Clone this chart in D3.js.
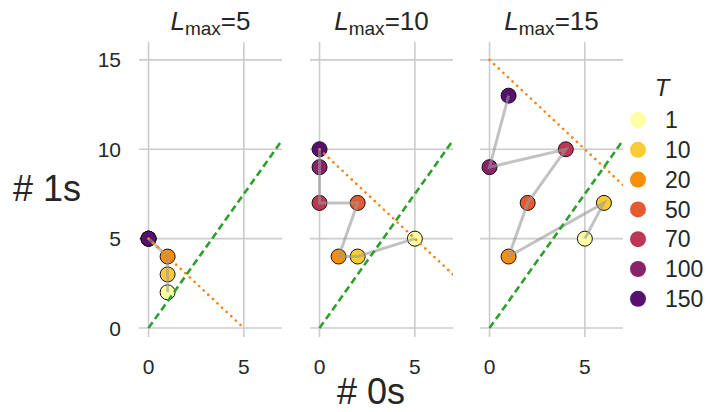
<!DOCTYPE html>
<html>
<head>
<meta charset="utf-8">
<script src="https://cdn.jsdelivr.net/npm/d3@7"></script>
<style>
  body { margin: 0; background: #fff; }
  text { font-family: "Liberation Sans", Arial, sans-serif; fill: #262626; }
</style>
</head>
<body>
<script>
const measurements = {
    width: 710,
    height: 412
}

// data
const lmaxValues = [5, 10, 15]
const tValues = [1, 10, 20, 50, 70, 100, 150]
// number of 0s and 1s for each T, one pair of arrays per panel
const zeros5 = [1, 1, 1, 0, 0, 0, 0]
const ones5 = [2, 3, 4, 5, 5, 5, 5]
const zeros10 = [5, 2, 1, 2, 0, 0, 0]
const ones10 = [5, 4, 4, 7, 7, 9, 10]
const zeros15 = [5, 6, 1, 2, 4, 0, 1]
const ones15 = [5, 7, 4, 7, 10, 9, 13]
const xTicks = [0, 5]
const yTicks = [0, 5, 10, 15]

const panels = [
    { lmax: lmaxValues[0], zeros: zeros5, ones: ones5 },
    { lmax: lmaxValues[1], zeros: zeros10, ones: ones10 },
    { lmax: lmaxValues[2], zeros: zeros15, ones: ones15 }
]

const svg = d3.select("body").append('svg')
    .attr('width', measurements.width)
    .attr('height', measurements.height)

const panelLeft = [139, 310, 480]
const panelWidth = 143
const plotTop = 42, plotBottom = 337

const y = d3.scaleLinear().domain([-0.5, 16]).range([plotBottom, plotTop])
const color = d3.scaleOrdinal()
    .domain(tValues)
    .range(tValues.map((t, i) => d3.interpolateInferno(1 - i * 0.125)))

svg.append('defs').selectAll('clipPath')
    .data(panels)
    .enter()
    .append('clipPath')
    .attr('id', (d, i) => 'clip' + i)
    .append('rect')
    .attr('x', 0).attr('y', plotTop)
    .attr('width', panelWidth).attr('height', plotBottom - plotTop)

panels.forEach(function (p, i) {
    const x = d3.scaleLinear().domain([-0.5, 7]).range([0, panelWidth])
    const g = svg.append('g').attr('transform', `translate(${panelLeft[i]},0)`)

    // grid
    g.selectAll('.vgrid').data(xTicks).enter().append('line')
        .attr('x1', d => x(d)).attr('x2', d => x(d))
        .attr('y1', plotTop).attr('y2', plotBottom)
        .attr('stroke', '#cccccc').attr('stroke-width', 1.6)
    g.selectAll('.hgrid').data(yTicks).enter().append('line')
        .attr('x1', 0).attr('x2', panelWidth)
        .attr('y1', d => y(d)).attr('y2', d => y(d))
        .attr('stroke', '#cccccc').attr('stroke-width', 1.6)

    // x tick labels
    g.selectAll('.xt').data(xTicks).enter().append('text')
        .attr('x', d => x(d)).attr('y', 374)
        .attr('text-anchor', 'middle')
        .attr('font-size', 21)
        .text(d => d)

    if (i === 0) {
        g.selectAll('.yt').data(yTicks).enter().append('text')
            .attr('x', -18).attr('y', d => y(d))
            .attr('dy', '0.36em')
            .attr('text-anchor', 'end')
            .attr('font-size', 21)
            .text(d => d)
    }

    // title
    const title = g.append('text')
        .attr('x', panelWidth / 2).attr('y', 30)
        .attr('text-anchor', 'middle')
        .attr('font-size', 26)
    title.append('tspan').attr('font-style', 'italic').text('L')
    title.append('tspan').attr('font-size', 19).attr('dy', 5).text('max')
    title.append('tspan').attr('dy', -5).text('=' + p.lmax)

    const pts = tValues.map((t, j) => ({ t: t, x: p.zeros[j], y: p.ones[j] }))

    const plot = g.append('g').attr('clip-path', `url(#clip${i})`)

    plot.selectAll('circle')
        .data(pts)
        .enter()
        .append('circle')
        .attr('cx', d => x(d.x))
        .attr('cy', d => y(d.y))
        .attr('r', 7.5)
        .attr('fill', d => color(d.t))
        .attr('stroke', '#111')
        .attr('stroke-width', 1)

    const line = d3.line().x(d => x(d.x)).y(d => y(d.y))
    plot.append('path')
        .datum(pts)
        .attr('d', line)
        .attr('fill', 'none')
        .attr('stroke', '#9a9a9a')
        .attr('stroke-opacity', 0.6)
        .attr('stroke-width', 3)

    // budget line: #0s + #1s = Lmax
    const xe = Math.min(p.lmax, 7)
    plot.append('path')
        .datum([[0, p.lmax], [xe, p.lmax - xe]])
        .attr('d', d3.line().x(d => x(d[0])).y(d => y(d[1])))
        .attr('fill', 'none')
        .attr('stroke', '#ff7f0e')
        .attr('stroke-width', 2.6)
        .attr('stroke-linecap', 'round')
        .attr('stroke-dasharray', '0.1,6.2')

    // reference line #1s = 1.5 * #0s
    plot.append('path')
        .datum([[0, 0], [7, 10.5]])
        .attr('d', d3.line().x(d => x(d[0])).y(d => y(d[1])))
        .attr('fill', 'none')
        .attr('stroke', '#2ca02c')
        .attr('stroke-width', 2.6)
        .attr('stroke-dasharray', '7,4')
})

// axis labels
svg.append('text')
    .attr('x', 371).attr('y', 404)
    .attr('text-anchor', 'middle')
    .attr('font-size', 36)
    .text('# 0s')
svg.append('text')
    .attr('x', 47).attr('y', 201)
    .attr('text-anchor', 'middle')
    .attr('font-size', 36)
    .text('# 1s')

// legend
const legend = svg.append('g')
legend.append('text')
    .attr('x', 662).attr('y', 96)
    .attr('text-anchor', 'middle')
    .attr('font-size', 24)
    .attr('font-style', 'italic')
    .text('T')
const items = legend.selectAll('.item')
    .data(tValues)
    .enter()
    .append('g')
    .attr('transform', (d, i) => `translate(638,${120 + i * 29.8})`)
items.append('circle')
    .attr('r', 8)
    .attr('fill', d => color(d))
items.append('text')
    .attr('x', 27).attr('dy', '0.36em')
    .attr('font-size', 23)
    .text(d => d)
</script>
</body>
</html>
